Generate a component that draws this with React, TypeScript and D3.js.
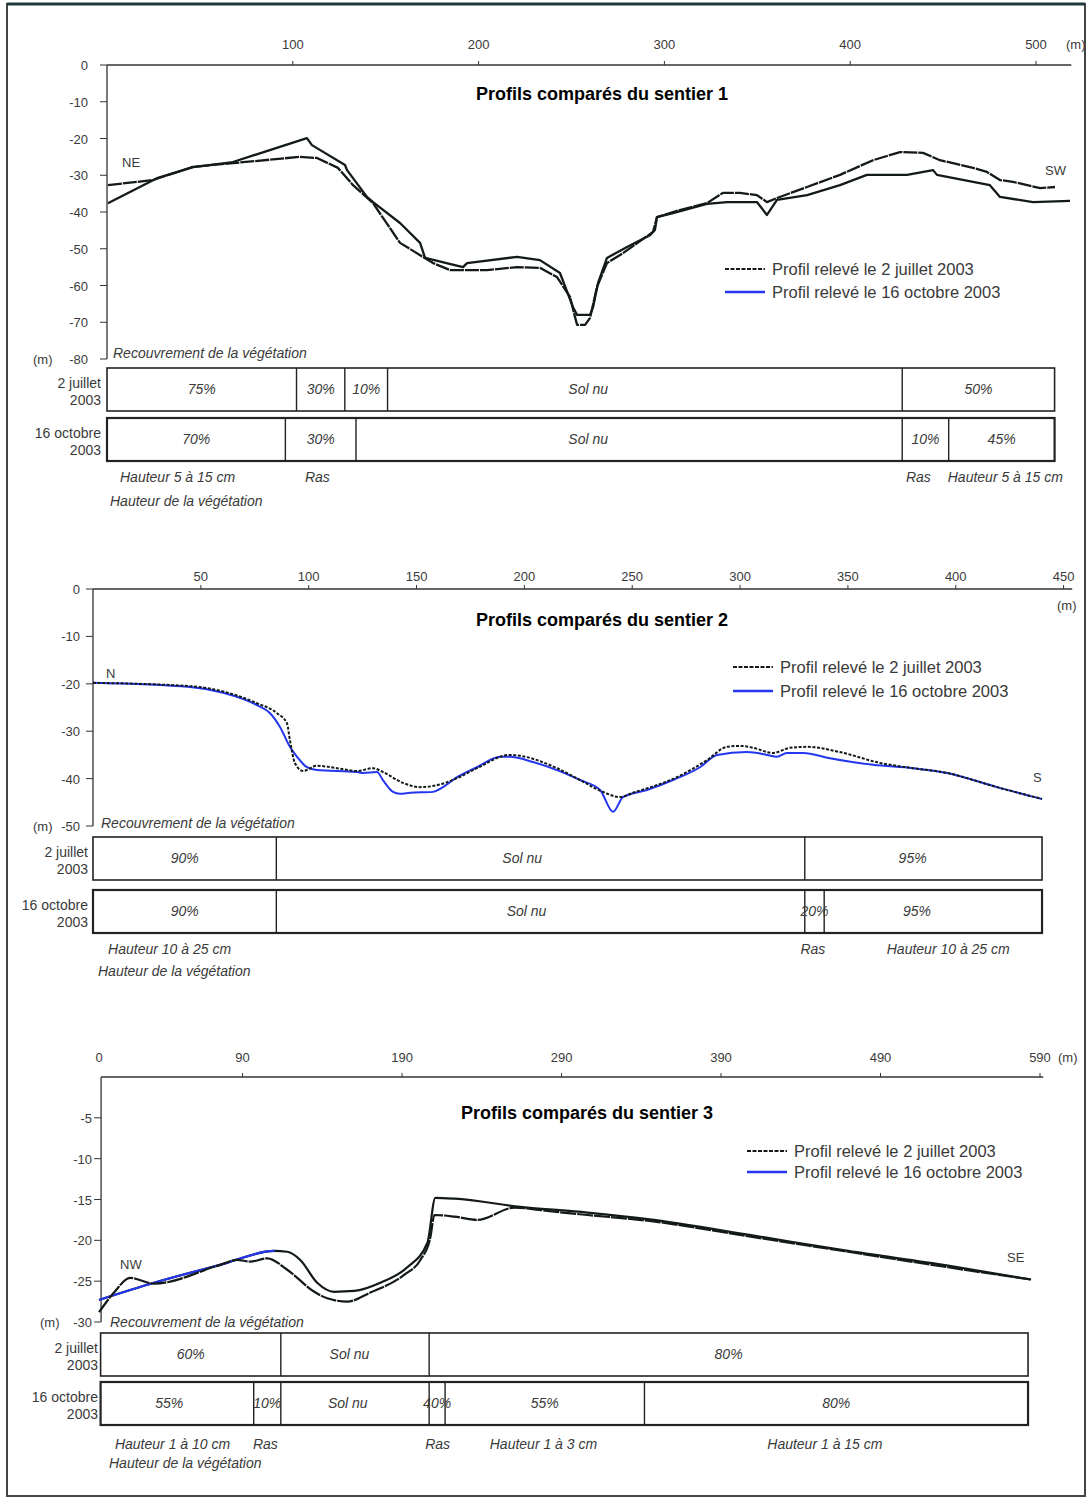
import React from "react";
import * as d3 from "d3";

type Pt = [number, number];
type Seg = { from: number; to: number; label: string; at?: number };
type HLabel = { at: number; text: string };

// ---------- Sentier 1 (m, altitude m) ----------
const p1July: Pt[] = [
  [0.5, -32.7], [24.8, -31.3], [46.3, -27.7], [67.8, -26.7], [103.9, -25.0], [113.0, -25.3],
  [124.3, -28.0], [132.4, -32.7], [143.2, -37.6], [157.7, -48.4], [175.5, -53.9], [184.6, -55.8],
  [204.5, -55.8], [220.7, -55.0], [233.0, -55.2], [242.2, -57.7], [249.2, -63.1], [251.9, -68.6],
  [253.0, -70.7], [257.3, -70.7], [260.0, -68.8], [263.7, -60.4], [269.1, -53.9], [277.7, -51.2],
  [293.9, -45.4], [296.0, -41.4], [304.6, -40.0], [322.9, -37.6], [331.5, -34.8], [340.7, -34.8],
  [349.8, -35.4], [355.2, -37.3], [360.6, -36.2], [376.8, -33.2], [394.5, -29.9], [412.3, -25.9],
  [426.8, -23.7], [439.2, -23.9], [448.3, -25.9], [466.1, -28.0], [473.6, -29.1], [480.6, -31.3],
  [487.6, -31.8], [502.2, -33.5], [510.2, -33.2],
];
const p1Oct: Pt[] = [
  [0.5, -37.6], [27.4, -30.7], [46.3, -27.8], [67.8, -26.4], [107.6, -19.9], [110.3, -21.8],
  [128.1, -27.2], [129.2, -28.6], [139.9, -35.9], [143.2, -37.3], [157.7, -43.0], [168.5, -48.4],
  [171.2, -52.5], [191.6, -55.0], [193.8, -53.9], [220.7, -52.2], [233.0, -53.1], [243.8, -56.6],
  [250.8, -65.9], [253.0, -68.0], [260.0, -68.0], [261.6, -65.9], [264.3, -59.3], [269.1, -52.5],
  [279.9, -49.5], [292.2, -46.3], [294.9, -44.9], [296.0, -41.4], [304.6, -40.3], [322.9, -37.8],
  [333.7, -37.3], [349.8, -37.3], [355.2, -40.8], [360.6, -36.7], [376.8, -35.4], [394.5, -32.7],
  [409.0, -29.9], [430.6, -29.9], [444.6, -28.6], [446.7, -29.9], [475.2, -32.7], [480.6, -35.9],
  [498.4, -37.3], [518.3, -37.0],
];
const p1XTicks = [100, 200, 300, 400, 500];
const p1YTicks = [0, -10, -20, -30, -40, -50, -60, -70, -80];
const p1JulySegs: Seg[] = [
  { from: 0, to: 102, label: "75%" }, { from: 102, to: 128, label: "30%" },
  { from: 128, to: 151, label: "10%" }, { from: 151, to: 428, label: "Sol nu", at: 259 },
  { from: 428, to: 510, label: "50%" },
];
const p1OctSegs: Seg[] = [
  { from: 0, to: 96, label: "70%" }, { from: 96, to: 134, label: "30%" },
  { from: 134, to: 428, label: "Sol nu", at: 259 }, { from: 428, to: 453, label: "10%" },
  { from: 453, to: 510, label: "45%" },
];
const p1Heights: HLabel[] = [
  { at: 7, text: "Hauteur 5 à 15 cm" }, { at: 106.5, text: "Ras" },
  { at: 430, text: "Ras" }, { at: 452.5, text: "Hauteur 5 à 15 cm" },
];

// ---------- Sentier 2 ----------
const p2July: Pt[] = [
  [0, -19.8], [45.0, -20.5], [76.0, -24.1], [85.3, -26.2], [89.9, -28.3], [91.3, -31.9],
  [93.6, -36.7], [97.4, -38.4], [103.8, -37.3], [113.1, -37.8], [122.4, -38.4], [129.8, -37.8],
  [134.4, -38.6], [143.7, -40.9], [151.6, -41.8], [159.5, -41.4], [168.8, -39.9], [178.0, -37.8],
  [193.3, -35.0], [198.0, -35.2], [215.1, -37.8], [225.8, -40.3], [236.4, -42.8], [244.3, -43.9],
  [250.3, -43.0], [270.7, -39.7], [284.7, -36.1], [293.9, -33.3], [300.0, -33.1], [306.0, -33.5],
  [315.3, -34.6], [323.1, -33.5], [331.0, -33.3], [346.3, -34.4], [364.9, -36.7], [380.2, -37.8],
  [395.9, -38.8], [419.1, -41.8], [440.0, -44.3],
];
const p2Oct: Pt[] = [
  [0, -19.8], [45.0, -20.7], [60.3, -21.9], [76.0, -24.5], [82.1, -26.2], [86.7, -29.1],
  [91.3, -33.3], [94.6, -35.4], [99.2, -37.6], [103.8, -38.2], [122.4, -38.6], [125.2, -38.8],
  [131.7, -38.6], [134.4, -40.3], [139.1, -42.8], [142.3, -43.2], [147.0, -43.0], [157.6, -42.8],
  [162.3, -41.8], [168.8, -39.7], [178.0, -37.6], [188.7, -35.4], [193.3, -35.4], [204.0, -36.5],
  [215.1, -38.2], [225.8, -40.3], [235.1, -42.4], [241.1, -47.0], [245.7, -43.9], [256.8, -42.4],
  [268.9, -40.3], [281.4, -37.6], [289.3, -35.0], [303.2, -34.4], [312.5, -35.0], [317.1, -35.4],
  [321.7, -34.6], [329.2, -34.6], [341.7, -35.7], [361.6, -37.1], [380.2, -37.8], [395.9, -38.8],
  [419.1, -41.8], [440.0, -44.3],
];
const p2XTicks = [50, 100, 150, 200, 250, 300, 350, 400, 450];
const p2YTicks = [0, -10, -20, -30, -40, -50];
const p2JulySegs: Seg[] = [
  { from: 0, to: 85, label: "90%" }, { from: 85, to: 330, label: "Sol nu", at: 199 },
  { from: 330, to: 440, label: "95%", at: 380 },
];
const p2OctSegs: Seg[] = [
  { from: 0, to: 85, label: "90%" }, { from: 85, to: 330, label: "Sol nu", at: 201 },
  { from: 330, to: 339, label: "20%" }, { from: 339, to: 440, label: "95%", at: 382 },
];
const p2Heights: HLabel[] = [
  { at: 7, text: "Hauteur 10 à 25 cm" }, { at: 328, text: "Ras" },
  { at: 368, text: "Hauteur 10 à 25 cm" },
];

// ---------- Sentier 3 ----------
const p3July: Pt[] = [
  [0, -28.8], [9.4, -26.4], [19.5, -24.6], [34.5, -25.3], [76.0, -23.0], [86.6, -22.4],
  [94.8, -22.6], [105.5, -22.2], [118.0, -23.6], [135.0, -26.3], [143.1, -27.1], [155.7, -27.5],
  [170.1, -26.4], [191.5, -24.2], [201.5, -22.4], [207.8, -19.6], [210.3, -16.9], [222.9, -17.1],
  [237.3, -17.5], [260.5, -16.0], [285.6, -16.5], [306.3, -16.9], [344.0, -17.6], [406.8, -19.5],
  [469.6, -21.4], [532.3, -23.3], [584.4, -24.8],
];
const p3Oct: Pt[] = [
  [0, -27.3], [34.5, -25.2], [76.0, -23.0], [109.9, -21.3], [118.0, -21.4], [126.2, -22.4],
  [136.8, -25.2], [147.5, -26.3], [160.1, -26.2], [176.4, -25.2], [193.3, -23.3], [205.9, -20.3],
  [210.9, -14.8], [222.9, -14.9], [264.3, -15.9], [306.3, -16.6], [344.0, -17.4], [406.8, -19.3],
  [469.6, -21.3], [532.3, -23.1], [584.4, -24.8],
];
const p3XTicks = [0, 90, 190, 290, 390, 490, 590];
const p3YTicks = [-5, -10, -15, -20, -25, -30];
const p3JulySegs: Seg[] = [
  { from: 1, to: 114, label: "60%" }, { from: 114, to: 207, label: "Sol nu", at: 157 },
  { from: 207, to: 582.5, label: "80%" },
];
const p3OctSegs: Seg[] = [
  { from: 1, to: 97, label: "55%", at: 44 }, { from: 97, to: 114, label: "10%" },
  { from: 114, to: 207, label: "Sol nu", at: 156 }, { from: 207, to: 217, label: "40%" },
  { from: 217, to: 342, label: "55%" }, { from: 342, to: 582.5, label: "80%" },
];
const p3Heights: HLabel[] = [
  { at: 10, text: "Hauteur 1 à 10 cm" }, { at: 96.5, text: "Ras" }, { at: 204.5, text: "Ras" },
  { at: 245, text: "Hauteur 1 à 3 cm" }, { at: 419, text: "Hauteur 1 à 15 cm" },
];

const legendJuly = "Profil relevé le 2 juillet 2003";
const legendOct = "Profil relevé le 16 octobre 2003";

const SANS = "'Liberation Sans', Arial, Helvetica, sans-serif";
const GREY = "#3a3a3a";
const BLUE = "#2436ee";
const DARK = "#141a1a";

type PanelCfg = {
  title: string; titleX: number; titleY: number;
  july: Pt[]; oct: Pt[];
  xDom: [number, number]; xRange: [number, number]; xAxisEnd: number;
  yDom: [number, number]; yRange: [number, number];
  xTicks: number[]; yTicks: number[];
  xLabelY: number; yLabelEnd: number;
  xUnit: [number, number]; yUnitX: number; yUnitVal: number;
  dirA: [string, number, number]; dirB: [string, number, number];
  legend: [number, number, number, number];
  julySegs: Seg[]; octSegs: Seg[]; rowTops: [number, number]; rowLabelX: number;
  recX: number; recY: number;
  heights: HLabel[]; heightsY: number; hvX: number; hvY: number;
  curve: any; julyDash: string; octColor: string; lineW: number; blueUntil?: number; id: string;
};

function Panel({ c }: { c: PanelCfg }) {
  const x = d3.scaleLinear().domain(c.xDom).range(c.xRange);
  const y = d3.scaleLinear().domain(c.yDom).range(c.yRange);
  const line = d3.line<Pt>().x((d) => x(d[0])).y((d) => y(d[1])).curve(c.curve);
  const axisX = c.id === "p3" ? x(1.3) : Math.max(x(0), c.xRange[0]);
  const yTop = y(0);
  const yBot = y(c.yDom[1]);
  const rowH = 43;
  const rowLabels = [["2 juillet", "2003"], ["16 octobre", "2003"]];
  const [lx1, lx2, ly1, ly2] = c.legend;
  return (
    <g>
      <line x1={axisX} x2={x(c.xAxisEnd)} y1={yTop} y2={yTop} stroke="#333" strokeWidth={1.3} />
      <line x1={axisX} x2={axisX} y1={yTop} y2={yBot} stroke="#333" strokeWidth={1.3} />
      {c.xTicks.map((t) => (
        <g key={"xt" + t}>
          {t > 0 && <line x1={x(t)} x2={x(t)} y1={yTop} y2={yTop - 4} stroke="#333" strokeWidth={1} />}
          <text x={x(t)} y={c.xLabelY} fontSize={13} fill={GREY} textAnchor="middle" fontFamily={SANS}>{t}</text>
        </g>
      ))}
      <text x={c.xUnit[0]} y={c.xUnit[1]} fontSize={13} fill={GREY} fontFamily={SANS}>(m)</text>
      {c.yTicks.map((t) => (
        <g key={"yt" + t}>
          <line x1={axisX - 7} x2={axisX} y1={y(t)} y2={y(t)} stroke="#333" strokeWidth={1} />
          <text x={c.yLabelEnd} y={y(t) + 5} fontSize={13} fill={GREY} textAnchor="end" fontFamily={SANS}>{t}</text>
        </g>
      ))}
      <text x={c.yUnitX} y={y(c.yUnitVal) + 5} fontSize={13} fill={GREY} fontFamily={SANS}>(m)</text>
      <text x={c.titleX} y={c.titleY} fontSize={18} fontWeight="bold" textAnchor="middle" fontFamily={SANS} fill="#000">{c.title}</text>
      {[c.dirA, c.dirB].map((d) => (
        <text key={d[0]} x={d[1]} y={d[2]} fontSize={13} fill={GREY} fontFamily={SANS}>{d[0]}</text>
      ))}
      <path d={line(c.oct) || ""} fill="none" stroke={c.octColor} strokeWidth={c.lineW} strokeLinejoin="round" />
      {c.blueUntil !== undefined && (
        <>
          <clipPath id={"clip" + c.id}>
            <rect x={0} y={yTop} width={x(c.blueUntil)} height={yBot - yTop + 5} />
          </clipPath>
          <path d={line(c.oct) || ""} fill="none" stroke={BLUE} strokeWidth={c.lineW} clipPath={`url(#clip${c.id})`} />
        </>
      )}
      <path d={line(c.july) || ""} fill="none" stroke={DARK} strokeWidth={c.lineW} strokeDasharray={c.julyDash} strokeLinejoin="round" />
      <line x1={lx1} x2={lx2} y1={ly1} y2={ly1} stroke={DARK} strokeWidth={2.2} strokeDasharray="4,1.5" />
      <line x1={lx1} x2={lx2} y1={ly2} y2={ly2} stroke={BLUE} strokeWidth={2.5} />
      <text x={lx2 + 7} y={ly1 + 6} fontSize={16.5} fill={GREY} fontFamily={SANS}>{legendJuly}</text>
      <text x={lx2 + 7} y={ly2 + 6} fontSize={16.5} fill={GREY} fontFamily={SANS}>{legendOct}</text>
      <text x={c.recX} y={c.recY} fontSize={14} fontStyle="italic" fill={GREY} fontFamily={SANS}>Recouvrement de la végétation</text>
      {[c.julySegs, c.octSegs].map((segs, r) => {
        const top = c.rowTops[r];
        const x0 = x(segs[0].from);
        const x1 = x(segs[segs.length - 1].to);
        return (
          <g key={"row" + r}>
            <rect x={x0} y={top} width={x1 - x0} height={rowH} fill="#fff" stroke="#222" strokeWidth={r === 0 ? 1.6 : 2.2} />
            {segs.slice(1).map((s, i) => (
              <line key={i} x1={x(s.from)} x2={x(s.from)} y1={top} y2={top + rowH} stroke="#222" strokeWidth={1.4} />
            ))}
            {segs.map((s, i) => (
              <text key={"l" + i} x={x(s.at !== undefined ? s.at : (s.from + s.to) / 2)} y={top + 26} fontSize={14} fontStyle="italic" fill={GREY} textAnchor="middle" fontFamily={SANS}>{s.label}</text>
            ))}
            <text x={c.rowLabelX} y={top + 20} fontSize={14} fill={GREY} textAnchor="end" fontFamily={SANS}>{rowLabels[r][0]}</text>
            <text x={c.rowLabelX} y={top + 37} fontSize={14} fill={GREY} textAnchor="end" fontFamily={SANS}>{rowLabels[r][1]}</text>
          </g>
        );
      })}
      {c.heights.map((h, i) => (
        <text key={"h" + i} x={x(h.at)} y={c.heightsY} fontSize={14} fontStyle="italic" fill={GREY} fontFamily={SANS}>{h.text}</text>
      ))}
      <text x={c.hvX} y={c.hvY} fontSize={14} fontStyle="italic" fill={GREY} fontFamily={SANS}>Hauteur de la végétation</text>
    </g>
  );
}

const panels: PanelCfg[] = [
  {
    id: "p1", title: "Profils comparés du sentier 1", titleX: 602, titleY: 100,
    july: p1July, oct: p1Oct, xDom: [0, 500], xRange: [107, 1036], xAxisEnd: 519,
    yDom: [0, -80], yRange: [65, 359], xTicks: p1XTicks, yTicks: p1YTicks,
    xLabelY: 49, yLabelEnd: 88, xUnit: [1066, 49], yUnitX: 33, yUnitVal: -80,
    dirA: ["NE", 122, 167], dirB: ["SW", 1045, 175], legend: [725, 765, 269, 292],
    julySegs: p1JulySegs, octSegs: p1OctSegs, rowTops: [368, 418], rowLabelX: 101,
    recX: 113, recY: 358, heights: p1Heights, heightsY: 482, hvX: 110, hvY: 506,
    curve: d3.curveLinear, julyDash: "14,1", octColor: DARK, lineW: 2.3,
  },
  {
    id: "p2", title: "Profils comparés du sentier 2", titleX: 602, titleY: 626,
    july: p2July, oct: p2Oct, xDom: [0, 450], xRange: [93, 1063.6], xAxisEnd: 454,
    yDom: [0, -50], yRange: [589, 826], xTicks: p2XTicks, yTicks: p2YTicks,
    xLabelY: 581, yLabelEnd: 80, xUnit: [1057, 610], yUnitX: 33, yUnitVal: -50,
    dirA: ["N", 106, 678], dirB: ["S", 1033, 782], legend: [733, 773, 667, 691],
    julySegs: p2JulySegs, octSegs: p2OctSegs, rowTops: [837, 890], rowLabelX: 88,
    recX: 101, recY: 828, heights: p2Heights, heightsY: 954, hvX: 98, hvY: 976,
    curve: d3.curveMonotoneX, julyDash: "3,1.6", octColor: BLUE, lineW: 2,
  },
  {
    id: "p3", title: "Profils comparés du sentier 3", titleX: 587, titleY: 1119,
    july: p3July, oct: p3Oct, xDom: [0, 590], xRange: [99, 1040], xAxisEnd: 592,
    yDom: [0, -30], yRange: [1077, 1322], xTicks: p3XTicks, yTicks: p3YTicks,
    xLabelY: 1062, yLabelEnd: 92, xUnit: [1058, 1062], yUnitX: 40, yUnitVal: -30,
    dirA: ["NW", 120, 1269], dirB: ["SE", 1007, 1262], legend: [747, 787, 1151, 1172],
    julySegs: p3JulySegs, octSegs: p3OctSegs, rowTops: [1333, 1382], rowLabelX: 98,
    recX: 110, recY: 1327, heights: p3Heights, heightsY: 1449, hvX: 109, hvY: 1468,
    curve: d3.curveMonotoneX, julyDash: "16,1", octColor: DARK, lineW: 2.2, blueUntil: 110,
  },
];

export default function App() {
  return (
    <svg width={1088} height={1499} viewBox="0 0 1088 1499"
      style={{ position: "absolute", left: 0, top: 0, background: "#fff", display: "block" }}>
      <rect x={0} y={0} width={1088} height={1499} fill="#fff" />
      <rect x={7} y={4} width={1078} height={1492} fill="none" stroke="#444" strokeWidth={2} />
      <line x1={7} x2={1085} y1={4} y2={4} stroke="#1d3a3a" strokeWidth={3} />
      {panels.map((p) => <Panel key={p.id} c={p} />)}
    </svg>
  );
}
